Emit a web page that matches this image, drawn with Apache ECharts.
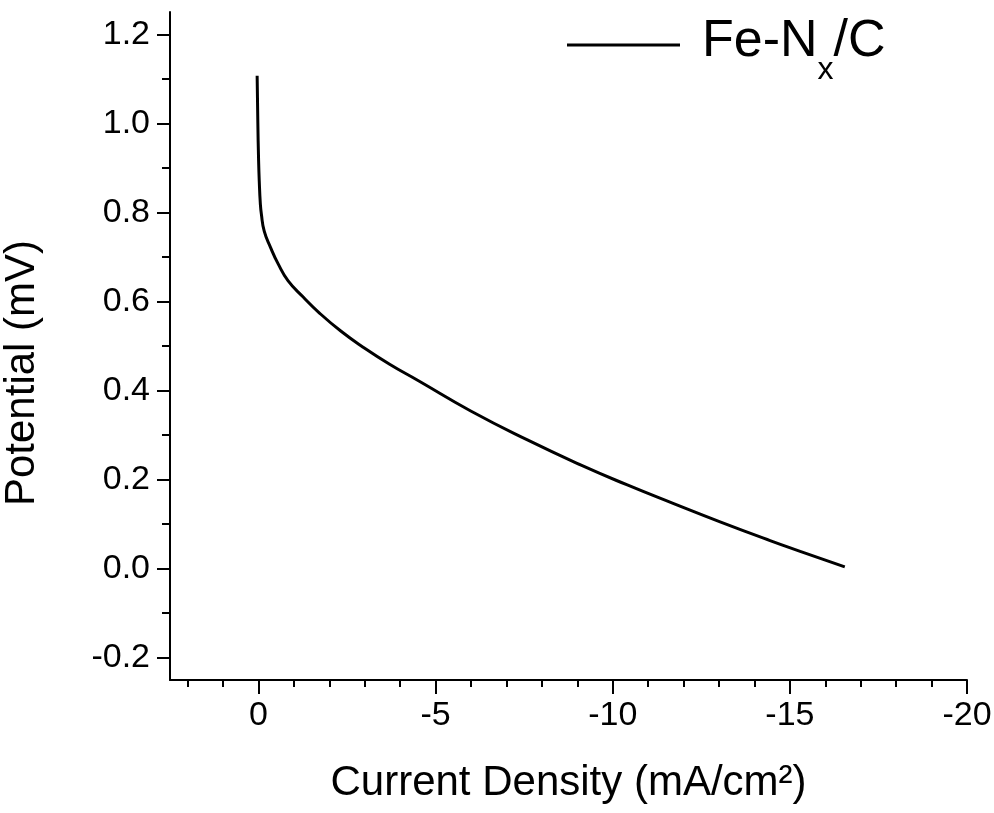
<!DOCTYPE html>
<html>
<head>
<meta charset="utf-8">
<script src="https://cdn.jsdelivr.net/npm/echarts@6.0.0/dist/echarts.min.js"></script>
<style>
html,body{margin:0;padding:0;background:#fff;}
#pol{width:994px;height:813px;}
</style>
</head>
<body>
<div id="pol"></div>
<script>
// polarization curve
var currentDensity = [0.04, 0.02, 0.0, -0.02, -0.05, -0.08, -0.16, -0.34, -0.55, -0.83, -1.26, -1.72, -2.33, -2.94, -3.7, -4.49, -5.99, -7.59, -9.09, -10.41, -11.72, -13.03, -14.44, -15.29, -16.55];
var potential = [1.107, 1.0, 0.92, 0.87, 0.82, 0.796, 0.758, 0.721, 0.685, 0.647, 0.61, 0.574, 0.533, 0.498, 0.459, 0.423, 0.354, 0.289, 0.233, 0.188, 0.146, 0.105, 0.063, 0.039, 0.004];
var xTicks = [0, -5, -10, -15, -20];
var xMinorTicks = [2, 1, -1, -2, -3, -4, -6, -7, -8, -9, -11, -12, -13, -14, -16, -17, -18, -19];
var yTicks = [-0.2, 0.0, 0.2, 0.4, 0.6, 0.8, 1.0, 1.2];
var yMinorTicks = [-0.1, 0.1, 0.3, 0.5, 0.7, 0.9, 1.1];

var font = 'Liberation Sans, Arial, sans-serif';
var myChart;

window.onresize = function () {
	if (myChart) {
		myChart.resize();
	}
};

function chart() {
	var pts = [];
	for (var i = 0; i < currentDensity.length; i++) {
		pts.push([currentDensity[i], potential[i]]);
	}
	var axisLine = {show: true, onZero: false, lineStyle: {color: '#000', width: 2}};
	var option = {
		animation: false,
		backgroundColor: '#fff',
		grid: {left: 170, top: 12, width: 797, height: 668, outerBoundsMode: 'none', containLabel: false},
		legend: {
			left: 567,
			top: 16,
			padding: 0,
			itemWidth: 113,
			itemHeight: 3,
			icon: 'rect',
			itemStyle: {color: '#000'},
			data: ['Fe-Nx/C'],
			formatter: function () {
				return '{a|Fe-N}{sub|x}{a|/C}';
			},
			textStyle: {
				color: '#000',
				fontFamily: font,
				fontSize: 52,
				padding: [0, 0, 0, 17],
				rich: {
					a: {fontSize: 52, fontFamily: font, color: '#000', lineHeight: 58, verticalAlign: 'top'},
					sub: {fontSize: 32, fontFamily: font, color: '#000', lineHeight: 32, verticalAlign: 'top', padding: [38, 0, 0, 0]}
				}
			}
		},
		xAxis: [{
			type: 'value',
			min: -20,
			max: 2.5,
			inverse: true,
			name: 'Current Density (mA/cm²)',
			nameLocation: 'middle',
			nameGap: 82,
			nameTextStyle: {color: '#000', fontFamily: font, fontSize: 42},
			axisLine: axisLine,
			axisTick: {show: true, customValues: xTicks, length: 14, lineStyle: {color: '#000', width: 2}},
			axisLabel: {customValues: xTicks, color: '#000', fontFamily: font, fontSize: 34, margin: 19},
			splitLine: {show: false}
		}, {
			type: 'value',
			min: -20,
			max: 2.5,
			inverse: true,
			position: 'bottom',
			axisLine: {show: false, onZero: false},
			axisTick: {show: true, customValues: xMinorTicks, length: 7, lineStyle: {color: '#000', width: 2}},
			axisLabel: {show: false},
			splitLine: {show: false}
		}],
		yAxis: [{
			type: 'value',
			min: -0.25,
			max: 1.25,
			name: 'Potential (mV)',
			nameLocation: 'middle',
			nameRotate: 90,
			nameGap: 127,
			nameTextStyle: {color: '#000', fontFamily: font, fontSize: 42, padding: [0, 54, 0, 0]},
			axisLine: axisLine,
			axisTick: {show: true, customValues: yTicks, length: 13, lineStyle: {color: '#000', width: 2}},
			axisLabel: {
				customValues: yTicks, color: '#000', fontFamily: font, fontSize: 34, margin: 20,
				formatter: function (v) { return v.toFixed(1); }
			},
			splitLine: {show: false}
		}, {
			type: 'value',
			min: -0.25,
			max: 1.25,
			position: 'left',
			axisLine: {show: false, onZero: false},
			axisTick: {show: true, customValues: yMinorTicks, length: 8, lineStyle: {color: '#000', width: 2}},
			axisLabel: {show: false},
			splitLine: {show: false}
		}],
		series: [{
			name: 'Fe-Nx/C',
			type: 'line',
			xAxisIndex: 0,
			yAxisIndex: 0,
			symbol: 'none',
			smooth: 0.5,
			lineStyle: {color: '#000', width: 3},
			itemStyle: {color: '#000'},
			data: pts
		}]
	};
	myChart = echarts.init(document.getElementById('pol'));
	myChart.setOption(option);
}

chart();
</script>
</body>
</html>
